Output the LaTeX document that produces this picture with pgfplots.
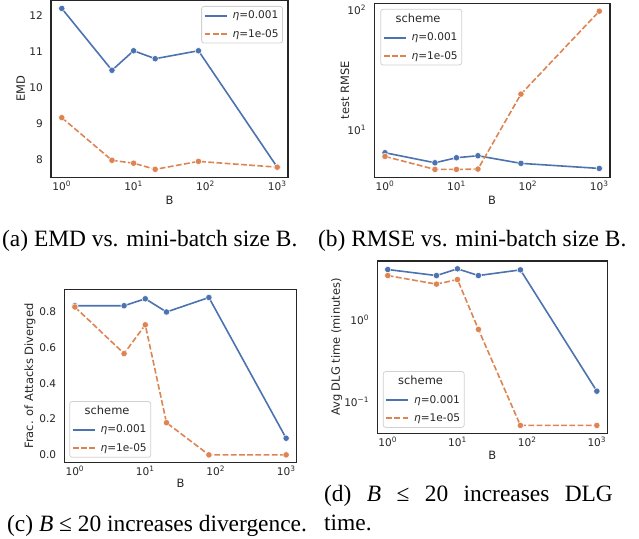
\documentclass[border=0pt]{standalone}
\usepackage{pgfplots}
\pgfplotsset{compat=1.18}
\usepackage{fontspec}
\setmainfont{Liberation Serif}
\newfontfamily\dv{DejaVu Sans}
\definecolor{c1}{HTML}{4C72B0}
\definecolor{c2}{HTML}{DD8452}
\definecolor{ink}{HTML}{262626}
\newcommand{\tp}[1]{10\textsuperscript{#1}}
\newcommand{\pf}{\dv\fontsize{10.6}{12.5}\selectfont}
\newcommand{\lf}{\dv\fontsize{11.5}{13.5}\selectfont}

\pgfplotsset{
  every axis/.append style={
  scale only axis,
  /pgf/number format/assume math mode=true,
  axis line style={ink, line width=1.25bp},
  major tick length=0pt, minor tick length=0pt,
  tick label style={font=\pf, text=ink},
  every axis label/.append style={font=\lf, text=ink},
  xticklabel style={anchor=north, inner sep=0pt, yshift=-3.5bp},
  yticklabel style={anchor=east, inner sep=0pt, xshift=-8bp},
  legend cell align=left,
  legend style={font=\pf, text=ink, draw=black!18, line width=0.8bp, rounded corners=2.5bp, fill=white, fill opacity=0.8, text opacity=1, inner xsep=2bp, inner ysep=2.5bp, row sep=5bp,
    /tikz/every odd column/.append style={column sep=3bp}},
  },
}
\tikzset{
 s1/.style={c1, line width=1.6bp, mark=*, mark size=3.2bp, mark options={solid, fill=c1, draw=white, line width=0.5bp}},
 s2/.style={c2, line width=1.6bp, dash pattern=on 5.8bp off 2.4bp, mark=*, mark size=3.2bp, mark options={solid, fill=c2, draw=white, line width=0.5bp}},
 l1/.style={c1, line width=2bp},
 l2/.style={c2, line width=2bp, dash pattern=on 5.8bp off 2.4bp},
}

\begin{document}
\begin{tikzpicture}
\useasboundingbox (0,0) rectangle (639bp,539bp);

% (a)
\begin{axis}[at={(51bp,361.7bp)}, anchor=south west, width=237bp, height=176.8bp,
  xmode=log, xmin=0.7079, xmax=1412.5,
  xminorticks=false, yminorticks=false,
  xtick={1,10,100,1000}, xticklabels={\tp{0},\tp{1},\tp{2},\tp{3}},
  xlabel={B},
  legend image code/.code={\draw[#1] (0bp,0bp) -- (22bp,0bp);},
  ymin=7.52, ymax=12.41, ytick={8,9,10,11,12},
  ylabel={EMD},
  ylabel style={at={(axis description cs:-0.128,0.5)}, anchor=center},
  xlabel style={at={(axis description cs:0.5,-0.128)}, anchor=center},
  legend style={at={(1,1)}, anchor=north east, xshift=-5bp, yshift=-5.5bp}]
\addlegendimage{l1}
\addlegendentry{\textit{η}=0.001}
\addlegendimage{l2}
\addlegendentry{\textit{η}=1e-05}
\addplot[s1, forget plot] coordinates {(1,12.19) (5,10.48) (10,11.02) (20,10.80) (80,11.02) (1000,7.80)};
\addplot[s2, forget plot] coordinates {(1,9.17) (5,7.99) (10,7.91) (20,7.74) (80,7.96) (1000,7.80)};
\end{axis}

% (b)
\begin{axis}[at={(374.3bp,361.7bp)}, anchor=south west, width=235.7bp, height=174bp,
  xmode=log, xmin=0.7079, xmax=1412.5,
  xminorticks=false, yminorticks=false,
  xtick={1,10,100,1000}, xticklabels={\tp{0},\tp{1},\tp{2},\tp{3}},
  xlabel={B},
  legend image code/.code={\draw[#1] (0bp,0bp) -- (22bp,0bp);},
  ymode=log, ymin=4.07, ymax=112.5, ytick={10,100}, yticklabels={\tp{1},\tp{2}},
  ylabel={test RMSE},
  ylabel style={at={(axis description cs:-0.124,0.5)}, anchor=center},
  xlabel style={at={(axis description cs:0.5,-0.130)}, anchor=center},
  legend style={at={(0,1)}, anchor=north west, xshift=6bp, yshift=-5.5bp}]
\addlegendimage{empty legend}
\addlegendentry{\hspace*{-16bp}\lf scheme}
\addlegendimage{l1}
\addlegendentry{\textit{η}=0.001}
\addlegendimage{l2}
\addlegendentry{\textit{η}=1e-05}
\addplot[s1, forget plot] coordinates {(1,6.5) (5,5.37) (10,5.91) (20,6.14) (80,5.31) (1000,4.82)};
\addplot[s2, forget plot] coordinates {(1,6.06) (5,4.73) (10,4.73) (20,4.76) (80,19.9) (1000,96.8)};
\end{axis}

% (c)
\begin{axis}[at={(64.3bp,76.3bp)}, anchor=south west, width=232.4bp, height=173.4bp,
  xmode=log, xmin=0.7079, xmax=1412.5,
  xminorticks=false, yminorticks=false,
  xtick={1,10,100,1000}, xticklabels={\tp{0},\tp{1},\tp{2},\tp{3}},
  xlabel={B},
  legend image code/.code={\draw[#1] (0bp,0bp) -- (22bp,0bp);},
  ymin=-0.044, ymax=0.927, ytick={0,0.2,0.4,0.6,0.8}, yticklabels={0.0,0.2,0.4,0.6,0.8},
  ylabel={Frac. of Attacks Diverged},
  ylabel style={at={(axis description cs:-0.148,0.5)}, anchor=center},
  xlabel style={at={(axis description cs:0.5,-0.117)}, anchor=center},
  legend style={at={(0,0)}, anchor=south west, xshift=5bp, yshift=5bp}]
\addlegendimage{empty legend}
\addlegendentry{\hspace*{-16bp}\lf scheme}
\addlegendimage{l1}
\addlegendentry{\textit{η}=0.001}
\addlegendimage{l2}
\addlegendentry{\textit{η}=1e-05}
\addplot[s1, forget plot] coordinates {(1,0.835) (5,0.835) (10,0.874) (20,0.80) (80,0.881) (1000,0.093)};
\addplot[s2, forget plot] coordinates {(1,0.828) (5,0.567) (10,0.728) (20,0.18) (80,0.0) (1000,0.0)};
\end{axis}

% (d)
\begin{axis}[at={(377.3bp,105.7bp)}, anchor=south west, width=230bp, height=172.3bp,
  xmode=log, xmin=0.7079, xmax=1412.5,
  xminorticks=false, yminorticks=false,
  xtick={1,10,100,1000}, xticklabels={\tp{0},\tp{1},\tp{2},\tp{3}},
  xlabel={B},
  legend image code/.code={\draw[#1] (0bp,0bp) -- (22bp,0bp);},
  ymode=log, ymin=0.042, ymax=5.15, ytick={0.1,1}, yticklabels={\tp{−1},\tp{0}},
  ylabel={Avg DLG time (minutes)},
  ylabel style={at={(axis description cs:-0.177,0.5)}, anchor=center},
  xlabel style={at={(axis description cs:0.5,-0.126)}, anchor=center},
  legend style={at={(0,0)}, anchor=south west, xshift=5.5bp, yshift=5.5bp}]
\addlegendimage{empty legend}
\addlegendentry{\hspace*{-16bp}\lf scheme}
\addlegendimage{l1}
\addlegendentry{\textit{η}=0.001}
\addlegendimage{l2}
\addlegendentry{\textit{η}=1e-05}
\addplot[s1, forget plot] coordinates {(1,4.06) (5,3.43) (10,4.14) (20,3.43) (80,4.02) (1000,0.136)};
\addplot[s2, forget plot] coordinates {(1,3.43) (5,2.70) (10,3.07) (20,0.763) (80,0.0523) (1000,0.0523)};
\end{axis}

% captions
\begin{scope}[every node/.style={inner sep=0pt, anchor=base west, font=\fontsize{23.5}{28.2}\selectfont}]
\node at (2bp,292bp) {(a) EMD vs. mini-batch size B.};
\node at (318bp,292bp) {(b) RMSE vs. mini-batch size B.};
\node at (7bp,8bp) {(c) \textit{B} ≤ 20 increases divergence.};
\node at (324bp,37.3bp) {\hbox to 288.7bp{(d)\hfill\textit{B}\hfill≤\hfill20\hfill increases\hfill DLG}};
\node at (324bp,9bp) {time.};
\end{scope}
\end{tikzpicture}
\end{document}
